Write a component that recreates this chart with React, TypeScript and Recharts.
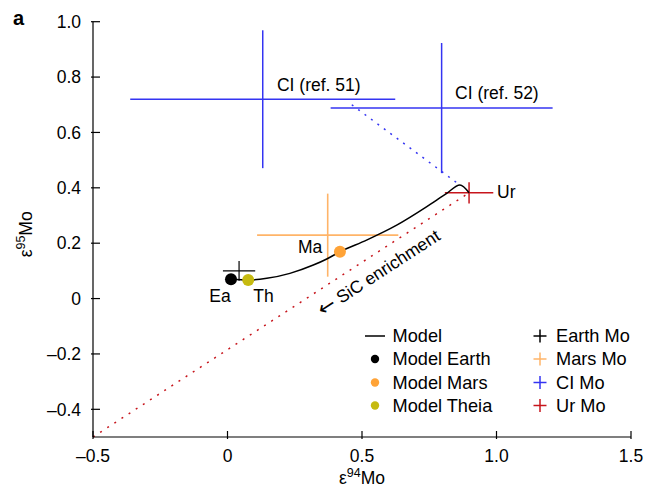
import React from 'react';
import { ComposedChart, XAxis, YAxis, Scatter, ReferenceLine, Legend } from 'recharts';

const FONT = '"Liberation Sans", Arial, Helvetica, sans-serif';

const xTicks = [-0.5, 0, 0.5, 1.0, 1.5];
const xTickLabels = ['\u20130.5', '0', '0.5', '1.0', '1.5'];
const yTicks = [-0.4, -0.2, 0, 0.2, 0.4, 0.6, 0.8, 1.0];
const yTickLabels = ['\u20130.4', '\u20130.2', '0', '0.2', '0.4', '0.6', '0.8', '1.0'];

// Model mixing curve (from Earth through Mars to Ur)
const modelCurve = [
  { x: 0.013, y: 0.070 },
  { x: 0.077, y: 0.067 },
  { x: 0.146, y: 0.073 },
  { x: 0.232, y: 0.091 },
  { x: 0.319, y: 0.121 },
  { x: 0.369, y: 0.143 },
  { x: 0.418, y: 0.169 },
  { x: 0.517, y: 0.211 },
  { x: 0.629, y: 0.265 },
  { x: 0.741, y: 0.332 },
  { x: 0.815, y: 0.380 },
  { x: 0.864, y: 0.410 },
  { x: 0.898, y: 0.382 },
];

const modelEarth = [{ x: 0.013, y: 0.070 }];
const modelMars = [{ x: 0.418, y: 0.169 }];
const modelTheia = [{ x: 0.077, y: 0.067 }];

// Measured compositions with uncertainties
const earthMo = { x: 0.043, y: 0.100, xe: 0.06, ye: 0.036 };
const marsMo = { x: 0.3725, y: 0.229, xe: 0.2625, ye: 0.15 };
const ciMo51 = { x: 0.131, y: 0.720, xe: 0.4926, ye: 0.249 };
const ciMo52 = { x: 0.796, y: 0.688, xe: 0.4126, ye: 0.235 };
const urMo = { x: 0.898, y: 0.382, xe: 0.09, ye: 0.0385 };

const sicLine = [{ x: -0.5, y: -0.5 }, { x: 0.898, y: 0.382 }];
const ciLine = [{ x: 0.462, y: 0.70 }, { x: 0.864, y: 0.41 }];

const annotations = [
  { x: 0.184, y: 0.749, text: 'CI (ref. 51)', arrow: '', rotate: 0, anchor: 'start' },
  { x: 0.846, y: 0.719, text: 'CI (ref. 52)', arrow: '', rotate: 0, anchor: 'start' },
  { x: 1.002, y: 0.362, text: 'Ur', arrow: '', rotate: 0, anchor: 'start' },
  { x: 0.262, y: 0.163, text: 'Ma', arrow: '', rotate: 0, anchor: 'start' },
  { x: -0.068, y: -0.012, text: 'Ea', arrow: '', rotate: 0, anchor: 'start' },
  { x: 0.096, y: -0.012, text: 'Th', arrow: '', rotate: 0, anchor: 'start' },
  { x: 0.562, y: 0.094, text: ' SiC enrichment', arrow: '\u2190', rotate: -33, anchor: 'middle' },
];

const C_BLUE = '#3434f2';
const C_ORANGE_DOT = '#ffa337';
const C_ORANGE_X = '#ffb468';
const C_RED = '#c7151c';
const C_THEIA = '#c6ba10';

const legendLeft = [
  { label: 'Model', kind: 'line', color: '#000000' },
  { label: 'Model Earth', kind: 'dot', color: '#000000' },
  { label: 'Model Mars', kind: 'dot', color: C_ORANGE_DOT },
  { label: 'Model Theia', kind: 'dot', color: C_THEIA },
];
const legendRight = [
  { label: 'Earth Mo', color: '#000000' },
  { label: 'Mars Mo', color: C_ORANGE_X },
  { label: 'CI Mo', color: C_BLUE },
  { label: 'Ur Mo', color: C_RED },
];

const XTick = (props: any) => {
  const { x, y, payload } = props;
  const i = xTicks.indexOf(payload.value);
  return (
    <g>
      <line x1={x} y1={y} x2={x} y2={y - 8} stroke="#000" strokeWidth={1.2} />
      <text x={x} y={y + 23} textAnchor="middle" fontSize={17.5} fontFamily={FONT} fill="#000">
        {i >= 0 ? xTickLabels[i] : payload.value}
      </text>
    </g>
  );
};

const YTick = (props: any) => {
  const { x, y, payload } = props;
  const i = yTicks.findIndex((t) => Math.abs(t - payload.value) < 1e-9);
  return (
    <g>
      <line x1={x} y1={y} x2={x + 9} y2={y} stroke="#000" strokeWidth={1.2} />
      <text x={x - 10} y={y + 6.2} textAnchor="end" fontSize={17.5} fontFamily={FONT} fill="#000">
        {i >= 0 ? yTickLabels[i] : payload.value}
      </text>
    </g>
  );
};

const XLabel = (props: any) => {
  const vb = props.viewBox || { x: 0, y: 0, width: 0 };
  const cx = vb.x + vb.width / 2;
  return (
    <text x={cx} y={vb.y + 47} textAnchor="middle" fontSize={17.5} fontFamily={FONT} fill="#000">
      ε<tspan fontSize={12.5} dy={-7}>94</tspan>
      <tspan fontSize={17.5} dy={7}>Mo</tspan>
    </text>
  );
};

const YLabel = (props: any) => {
  const vb = props.viewBox || { x: 0, y: 0, height: 0 };
  const cy = vb.y + vb.height / 2 + 5;
  const bx = 32;
  return (
    <text
      x={bx}
      y={cy}
      transform={`rotate(-90 ${bx} ${cy})`}
      textAnchor="middle"
      fontSize={17.5}
      fontFamily={FONT}
      fill="#000"
    >
      ε<tspan fontSize={12.5} dy={-7}>95</tspan>
      <tspan fontSize={17.5} dy={7}>Mo</tspan>
    </text>
  );
};

const renderLegend = () => {
  const rows = [14, 37, 60.5, 83.5];
  return (
    <svg width={290} height={95} style={{ overflow: 'visible', display: 'block' }}>
      {legendLeft.map((it, i) => (
        <g key={it.label}>
          {it.kind === 'line' ? (
            <line x1={10} x2={30} y1={rows[i]} y2={rows[i]} stroke={it.color} strokeWidth={1.5} />
          ) : (
            <circle cx={20} cy={rows[i]} r={4.2} fill={it.color} />
          )}
          <text x={37.5} y={rows[i] + 6.3} fontSize={18.2} fontFamily={FONT} fill="#000">
            {it.label}
          </text>
        </g>
      ))}
      {legendRight.map((it, i) => (
        <g key={it.label}>
          <line x1={178.5} x2={191.5} y1={rows[i]} y2={rows[i]} stroke={it.color} strokeWidth={1.5} />
          <line x1={185} x2={185} y1={rows[i] - 6.5} y2={rows[i] + 6.5} stroke={it.color} strokeWidth={1.5} />
          <text x={201} y={rows[i] + 6.3} fontSize={18.2} fontFamily={FONT} fill="#000">
            {it.label}
          </text>
        </g>
      ))}
    </svg>
  );
};

const crossLines = (d: { x: number; y: number; xe: number; ye: number }, color: string, w: number, key: string) => [
  <ReferenceLine
    key={key + 'h'}
    segment={[{ x: d.x - d.xe, y: d.y }, { x: d.x + d.xe, y: d.y }]}
    stroke={color}
    strokeWidth={w}
    ifOverflow="visible"
  />,
  <ReferenceLine
    key={key + 'v'}
    segment={[{ x: d.x, y: d.y - d.ye }, { x: d.x, y: d.y + d.ye }]}
    stroke={color}
    strokeWidth={w}
    ifOverflow="visible"
  />,
];

const dotShape = (color: string) => (p: any) => <circle cx={p.cx} cy={p.cy} r={6} fill={color} />;

const textShape = (p: any) => {
  const a = p.payload;
  return (
    <text
      x={p.cx}
      y={p.cy}
      textAnchor={a.anchor}
      dominantBaseline={a.rotate ? 'central' : 'auto'}
      transform={a.rotate ? `rotate(${a.rotate} ${p.cx} ${p.cy})` : undefined}
      fontSize={17.5}
      fontFamily={FONT}
      fill="#000"
    >
      {a.arrow ? (
        <tspan fontFamily='"DejaVu Sans", sans-serif' fontSize={21}>
          {a.arrow}
        </tspan>
      ) : null}
      {a.text}
    </text>
  );
};

export default function App() {
  return (
    <div style={{ position: 'absolute', left: 0, top: 0, width: 651, height: 488, background: '#fff' }}>
      <div
        style={{
          position: 'absolute',
          left: 13,
          top: 7,
          fontFamily: FONT,
          fontWeight: 'bold',
          fontSize: 20,
          lineHeight: '23px',
          color: '#000',
        }}
      >
        a
      </div>
      <ComposedChart width={651} height={488} margin={{ top: 21.7, right: 20, bottom: 21, left: 33 }}>
        <XAxis
          type="number"
          dataKey="x"
          domain={[-0.5, 1.5]}
          ticks={xTicks}
          interval={0}
          allowDataOverflow
          tickSize={0}
          tickLine={false}
          tick={(p: any) => <XTick {...p} />}
          axisLine={{ stroke: '#000', strokeWidth: 1.2 }}
          height={30}
          label={{ content: XLabel } as any}
        />
        <YAxis
          type="number"
          dataKey="y"
          domain={[-0.5, 1.0]}
          ticks={yTicks}
          interval={0}
          allowDataOverflow
          tickSize={0}
          tickLine={false}
          tick={(p: any) => <YTick {...p} />}
          axisLine={{ stroke: '#000', strokeWidth: 1.2 }}
          width={60}
          label={{ content: YLabel } as any}
        />
        <ReferenceLine
          segment={sicLine}
          stroke={C_RED}
          strokeWidth={1.5}
          strokeDasharray="2 6.5"
          ifOverflow="visible"
        />
        <ReferenceLine
          segment={ciLine}
          stroke={C_BLUE}
          strokeWidth={1.5}
          strokeDasharray="2 6"
          ifOverflow="visible"
        />
        {crossLines(ciMo51, C_BLUE, 1.5, 'ci51')}
        {crossLines(ciMo52, C_BLUE, 1.5, 'ci52')}
        {crossLines(marsMo, C_ORANGE_X, 1.6, 'mars')}
        {crossLines(urMo, C_RED, 1.5, 'ur')}
        {crossLines(earthMo, '#000', 1.2, 'earth')}
        <Scatter
          data={modelCurve}
          line={{ stroke: '#000', strokeWidth: 1.5 }}
          lineJointType="monotoneX"
          shape={() => <g />}
          isAnimationActive={false}
          legendType="none"
        />
        <Scatter data={modelEarth} shape={dotShape('#000')} isAnimationActive={false} legendType="none" />
        <Scatter data={modelTheia} shape={dotShape(C_THEIA)} isAnimationActive={false} legendType="none" />
        <Scatter data={modelMars} shape={dotShape(C_ORANGE_DOT)} isAnimationActive={false} legendType="none" />
        <Scatter data={annotations} shape={textShape} isAnimationActive={false} legendType="none" />
        <Legend
          content={renderLegend}
          layout="horizontal"
          verticalAlign="middle"
          align="center"
          wrapperStyle={{ left: 355, top: 322, width: 290, height: 95 }}
        />
      </ComposedChart>
    </div>
  );
}
